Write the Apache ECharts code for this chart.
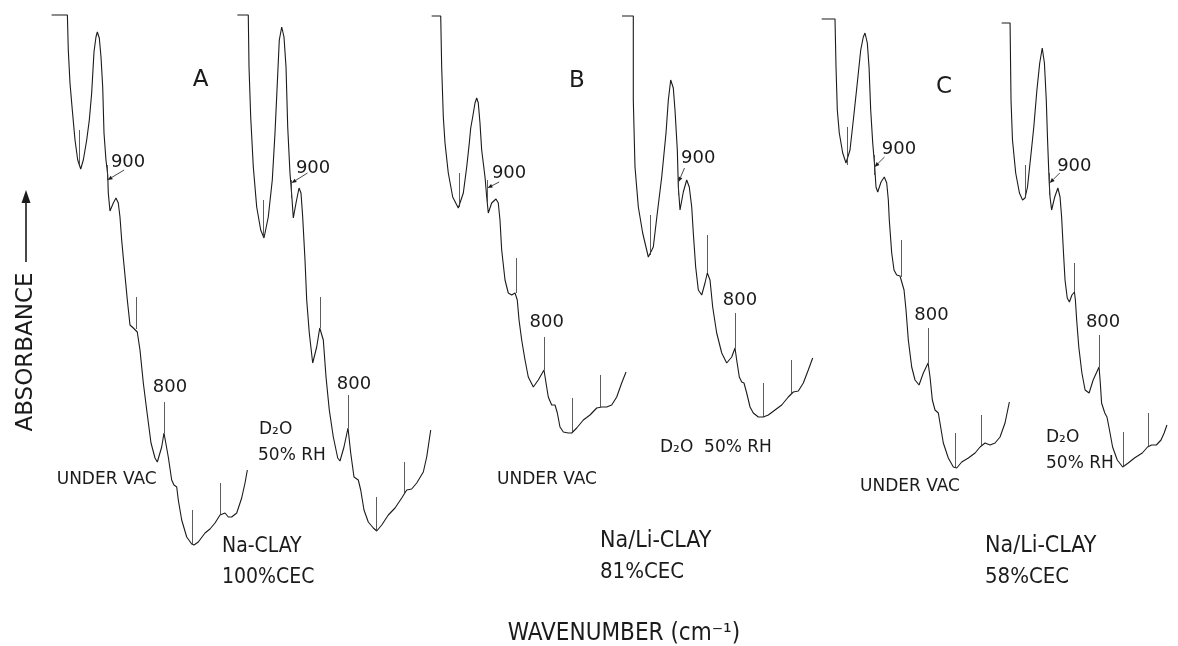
<!DOCTYPE html>
<html><head><meta charset="utf-8">
<script src="https://cdn.jsdelivr.net/npm/echarts@6/dist/echarts.min.js"></script>
<style>html,body{margin:0;padding:0;background:#fff}#c{width:1178px;height:646px}</style>
</head><body><div id="c"></div>
<script>
// ---- DATA: [wavenumber (cm-1), absorbance (arb. units, offset per trace)] ----
const specA1 = [[999,5.85],[971,5.85],[969.4,5.50],[966.4,5.17],[962.3,4.90],[957.5,4.60],[952.7,4.40],[947.4,4.31],[942.8,4.40],[936.8,4.60],[932.2,4.80],[928.0,5.07],[923.9,5.48],[920.4,5.63],[918.0,5.68],[914.5,5.62],[911.5,5.43],[908.5,5.13],[906.2,4.67],[902.7,4.40],[899.6,4.25],[898.6,4.07],[895.6,3.89],[889.7,3.97],[885.0,4.02],[880.9,3.97],[877.9,3.83],[874.9,3.60],[872.0,3.42],[864.9,3.00],[860.2,2.75],[854.3,2.72],[851.3,2.71],[847.3,2.68],[842.5,2.50],[836.6,2.17],[830.6,1.90],[823.0,1.57],[815.9,1.42],[811.8,1.38],[804.1,1.53],[800,1.67],[792.4,1.43],[786.4,1.20],[782.3,1.15],[777.5,1.13],[774.7,1.00],[768.7,0.80],[759.8,0.63],[751.0,0.56],[746.9,0.55],[739.3,0.58],[727.4,0.67],[718.6,0.71],[709.7,0.77],[700.9,0.85],[692.0,0.87],[686.2,0.83],[680.2,0.83],[671.3,0.87],[662.5,1.02],[656.6,1.17],[652.5,1.30]];
const specA2 = [[995.9,5.85],[976.5,5.85],[975.2,5.33],[972.2,4.83],[967.6,4.33],[961.6,3.93],[954.5,3.70],[948.7,3.62],[941.1,3.83],[934.0,4.20],[929.2,4.67],[925.1,5.17],[921.6,5.60],[917.3,5.73],[913.3,5.63],[909.7,5.33],[906.7,4.73],[902.7,4.27],[899.6,4.05],[896.8,3.82],[892.0,3.97],[886.7,4.12],[883.2,4.07],[880.2,3.83],[876.1,3.40],[873.1,3.00],[868.5,2.67],[862.5,2.37],[855.4,2.53],[850,2.72],[843.7,2.60],[838.9,2.23],[833.1,1.90],[826.0,1.63],[818.2,1.42],[814.2,1.39],[807.1,1.53],[800,1.72],[795.2,1.47],[789.4,1.23],[781.8,1.20],[777.5,1.10],[771.7,0.90],[764.1,0.78],[755.2,0.72],[749.2,0.69],[740.3,0.75],[728.7,0.85],[716.8,0.92],[704.9,1.02],[696.1,1.10],[687.3,1.11],[678.4,1.17],[666.7,1.28],[660.7,1.43],[653.6,1.70]];
const specB1 = [[998.8,5.84],[982.8,5.84],[981.1,5.33],[978.2,4.83],[975.2,4.57],[969.4,4.27],[961.6,4.03],[951.7,3.92],[942.8,4.07],[936.8,4.33],[932.2,4.57],[929.7,4.72],[926.2,4.83],[922.1,4.97],[919.1,5.02],[916.3,4.97],[913.3,4.77],[910.3,4.50],[904.4,4.23],[901.4,4.03],[898.6,3.87],[892.6,3.97],[885.0,4.01],[880.9,3.97],[877.9,3.80],[874.9,3.50],[869.0,3.20],[863.2,3.07],[857.2,3.05],[851.3,3.07],[847.3,3.00],[844.2,2.80],[839.5,2.60],[833.6,2.40],[827.8,2.23],[818.9,2.13],[810.1,2.20],[800,2.30],[796.4,2.17],[792.4,2.03],[786.4,1.95],[780.5,1.95],[776.4,1.87],[771.7,1.73],[765.8,1.68],[757.0,1.67],[751.0,1.67],[742.1,1.72],[730.4,1.80],[718.6,1.85],[706.7,1.92],[697.9,1.93],[689.0,1.93],[680.2,1.95],[671.3,2.03],[662.5,2.17],[654.8,2.28]];
const specB2 = [[1000,5.84],[980,5.84],[980,5.00],[977,4.33],[971.1,3.93],[963.4,3.67],[953.4,3.43],[944.6,3.53],[937.5,3.87],[929.7,4.23],[922.1,4.67],[918,5.00],[913.8,5.20],[909.2,5.12],[906.2,4.90],[902.1,4.50],[900.3,4.13],[897.3,3.90],[891.5,4.08],[885.5,4.20],[880.9,4.13],[876.6,3.93],[873.8,3.67],[869.6,3.33],[864.9,3.10],[858.9,3.05],[853.1,3.17],[849,3.27],[844.2,3.20],[839.5,2.93],[832.4,2.67],[823.5,2.47],[814.7,2.37],[805.8,2.43],[800,2.52],[797,2.40],[792.4,2.23],[788.1,2.18],[784.1,2.17],[779.3,2.07],[773.4,1.93],[767.6,1.87],[758.7,1.83],[749.9,1.83],[741,1.85],[729.2,1.90],[717.3,1.95],[705.7,2.03],[696.8,2.08],[687.9,2.09],[679.1,2.17],[670.3,2.30],[662.5,2.42]];
const specC1 = [[998.5,5.81],[973.7,5.81],[971.8,5.33],[969.4,4.90],[965.7,4.67],[959.3,4.47],[953.2,4.37],[950,4.35],[945.7,4.50],[939.5,4.80],[932.1,5.17],[925.7,5.50],[920.9,5.63],[917.7,5.67],[913.4,5.57],[910.2,5.33],[907.1,4.90],[903.3,4.57],[899.6,4.33],[897.2,4.13],[894,4.08],[887.8,4.18],[881.7,4.23],[877.2,4.17],[874.2,4.00],[872.4,3.80],[867.9,3.47],[863.6,3.30],[858.6,3.25],[852.4,3.24],[849.2,3.23],[844.9,3.10],[841.2,2.90],[836.9,2.60],[830.6,2.33],[824.4,2.20],[816.9,2.15],[808.9,2.27],[800,2.37],[796.4,2.23],[792.1,2.00],[787.1,1.90],[780.9,1.87],[777.8,1.77],[771.6,1.57],[762.3,1.42],[752.9,1.33],[746.6,1.32],[737.3,1.38],[724.9,1.42],[712.4,1.47],[703.1,1.53],[693.8,1.57],[684.4,1.55],[675.1,1.57],[665.8,1.63],[656.5,1.77],[648.4,1.98]];
const specC2 = [[997.5,5.77],[980.4,5.77],[978.5,5.00],[975.5,4.60],[969,4.27],[961.4,4.07],[955.1,4.00],[950,4.02],[945.1,4.13],[938.6,4.43],[932.3,4.73],[926,5.10],[920.3,5.37],[915.2,5.52],[910.8,5.37],[907,5.00],[904.4,4.60],[901.3,4.20],[899.4,4.03],[896.2,3.90],[889.9,4.03],[883.5,4.12],[879.1,4.03],[875.9,3.83],[872.1,3.47],[869,3.20],[864.5,3.02],[860.1,2.98],[855,3.05],[850,3.08],[848,3.00],[845.4,2.80],[841.1,2.53],[834.8,2.27],[828.3,2.10],[820.2,2.07],[812,2.20],[800,2.33],[797.5,2.17],[794.9,1.97],[788.4,1.87],[784,1.83],[778.9,1.70],[772.6,1.53],[763.1,1.40],[752.1,1.33],[740.9,1.37],[728.3,1.42],[712.4,1.47],[701.7,1.53],[693.4,1.55],[683.9,1.55],[674.4,1.60],[668.1,1.67],[662.4,1.75]];

// calibration marks: [wavenumber, absorbance at foot, absorbance at top]
const ticksA1 = [[950,4.35,4.70],[900,4.20,4.35],[850,2.71,3.03],[800,1.67,1.98],[750,0.56,0.90],[700,0.85,1.17]];
const ticksA2 = [[950,3.63,4.00],[900,4.02,4.20],[850,2.72,3.03],[800,1.72,2.05],[750,0.69,1.03],[700,1.06,1.38]];
const ticksB1 = [[950,3.93,4.27],[900,3.98,4.20],[850,3.07,3.42],[800,2.30,2.63],[750,1.67,2.02],[700,1.93,2.25]];
const ticksB2 = [[950,3.45,3.85],[900,4.05,4.22],[850,3.27,3.65],[800,2.52,2.87],[750,1.83,2.17],[700,2.06,2.40]];
const ticksC1 = [[950,4.35,4.73],[900,4.25,4.45],[850,3.23,3.60],[800,2.37,2.72],[750,1.33,1.67],[700,1.54,1.85]];
const ticksC2 = [[950,4.02,4.35],[900,4.05,4.27],[850,3.08,3.37],[800,2.33,2.65],[750,1.33,1.68],[700,1.53,1.87]];

// absorbance where each "900" arrow points
const arrow900 = [4.20, 4.17, 4.12, 4.18, 4.33, 4.17];

// text
const panelLetters = ['A', 'B', 'C'];
const conditionText = ['UNDER VAC', 'D\u2082O', '50% RH', 'UNDER VAC', 'D\u2082O  50% RH', 'UNDER VAC', 'D\u2082O', '50% RH'];
const sampleText = [['Na-CLAY', '100%CEC'], ['Na/Li-CLAY', '81%CEC'], ['Na/Li-CLAY', '58%CEC']];
const xTitle = 'WAVENUMBER (cm\u207B\u00B9)';
const yTitle = 'ABSORBANCE';

// ---- LAYOUT (positions / styles) ----
const traces = [
  {data: specA1, ticks: ticksA1, left: 51,    scale: 0.565, lab900: [3.4, -18], arr900: [16.7, -10], lab800: [6, -14.5]},
  {data: specA2, ticks: ticksA2, left: 235,   scale: 0.565, lab900: [4.4, -15], arr900: [16, -10],   lab800: [6, -11]},
  {data: specB1, ticks: ticksB1, left: 431,   scale: 0.565, lab900: [4.4, -14.5], arr900: [11.7, -6], lab800: [2.7, -15]},
  {data: specB2, ticks: ticksB2, left: 622,   scale: 0.565, lab900: [2.6, -24], arr900: [6, -14],    lab800: [5, -13]},
  {data: specC1, ticks: ticksC1, left: 820.9, scale: 0.536, lab900: [7.3, -18], arr900: [10, -10],   lab800: [3.3, -13]},
  {data: specC2, ticks: ticksC2, left: 1000.4,scale: 0.526, lab900: [7.4, -17], arr900: [10, -10],   lab800: [4, -13]}
];
const WN_MIN = 640, WN_MAX = 1000;
const INK = '#1b1b1b';
const FONT = '"DejaVu Sans", sans-serif';
const FONT_C = '"DejaVu Sans Condensed", "DejaVu Sans", sans-serif';

const chart = echarts.init(document.getElementById('c'), null, {renderer: 'canvas'});
const grids = [], xAxes = [], yAxes = [], series = [];
traces.forEach((t, i) => {
  grids.push({left: t.left, top: 0, width: t.scale * (WN_MAX - WN_MIN), height: 600, containLabel: false});
  xAxes.push({type: 'value', gridIndex: i, min: WN_MIN, max: WN_MAX, inverse: true, show: false});
  yAxes.push({type: 'value', gridIndex: i, min: 0, max: 6, show: false});
  series.push({
    type: 'line', xAxisIndex: i, yAxisIndex: i, data: t.data,
    showSymbol: false, symbol: 'none', clip: false, silent: true, animation: false,
    lineStyle: {color: INK, width: 1.1},
    markLine: {
      silent: true, animation: false, symbol: ['none', 'none'],
      label: {show: false}, emphasis: {disabled: true},
      lineStyle: {color: '#333', width: 0.8, type: 'solid'},
      data: t.ticks.map(k => [{coord: [k[0], k[1]]}, {coord: [k[0], k[2]]}])
    }
  });
});
chart.setOption({
  animation: false, backgroundColor: '#fff',
  grid: grids, xAxis: xAxes, yAxis: yAxes, series: series
});

function txt(x, y, text, size, align, extra, family) {
  const fam = family || FONT;
  return Object.assign({
    type: 'text', x: x, y: y, silent: true,
    style: {text: text, fill: INK, font: size + 'px ' + fam, fontSize: size, fontFamily: fam,
            textAlign: align || 'left', textVerticalAlign: 'middle', align: align || 'left', verticalAlign: 'middle'}
  }, extra || {});
}
function arrow(x1, y1, x2, y2, head, half, w) {
  const dx = x2 - x1, dy = y2 - y1, L = Math.sqrt(dx * dx + dy * dy);
  const ux = dx / L, uy = dy / L;
  const bx = x2 - ux * head, by = y2 - uy * head;
  return [
    {type: 'line', silent: true, shape: {x1: x1, y1: y1, x2: bx, y2: by}, style: {stroke: INK, lineWidth: w}},
    {type: 'polygon', silent: true, shape: {points: [[x2, y2], [bx - uy * half, by + ux * half], [bx + uy * half, by - ux * half]]}, style: {fill: INK}}
  ];
}

const g = [];
traces.forEach((t, i) => {
  const tip = chart.convertToPixel({gridIndex: i}, [900, arrow900[i]]);
  g.push(txt(tip[0] + t.lab900[0], tip[1] + t.lab900[1], '900', 18, 'left'));
  arrow(tip[0] + t.arr900[0], tip[1] + t.arr900[1], tip[0], tip[1], 5, 2, 0.8).forEach(e => g.push(e));
  const top800 = t.ticks.find(k => k[0] === 800);
  const p8 = chart.convertToPixel({gridIndex: i}, [800, top800[2]]);
  g.push(txt(p8[0] + t.lab800[0], p8[1] + t.lab800[1], '800', 18, 'center'));
});
// panel letters
g.push(txt(200.5, 80, panelLetters[0], 23, 'center'));
g.push(txt(577, 81, panelLetters[1], 23, 'center'));
g.push(txt(944, 87, panelLetters[2], 23, 'center'));
// condition labels
g.push(txt(56.7, 480, conditionText[0], 17, 'left'));
g.push(txt(259, 430, conditionText[1], 17, 'left'));
g.push(txt(258, 456, conditionText[2], 17, 'left'));
g.push(txt(497, 480, conditionText[3], 17, 'left'));
g.push(txt(660, 448, conditionText[4], 17, 'left'));
g.push(txt(860, 487, conditionText[5], 17, 'left'));
g.push(txt(1046, 438, conditionText[6], 17, 'left'));
g.push(txt(1046, 464, conditionText[7], 17, 'left'));
// sample labels
g.push(txt(222, 547, sampleText[0][0], 21, 'left', null, FONT_C));
g.push(txt(222, 578, sampleText[0][1], 21, 'left', null, FONT_C));
g.push(txt(600, 541, sampleText[1][0], 23, 'left', null, FONT_C));
g.push(txt(600, 572, sampleText[1][1], 22, 'left', null, FONT_C));
g.push(txt(985, 546, sampleText[2][0], 23, 'left', null, FONT_C));
g.push(txt(985, 577, sampleText[2][1], 22, 'left', null, FONT_C));
// axis titles
g.push(txt(624, 634, xTitle, 24, 'center', null, FONT_C));
g.push(txt(26, 352, yTitle, 23, 'center', {rotation: Math.PI / 2}));
arrow(26, 262, 26, 190, 13, 4.5, 1.6).forEach(e => g.push(e));

chart.setOption({graphic: {elements: g}});
</script>
</body></html>
